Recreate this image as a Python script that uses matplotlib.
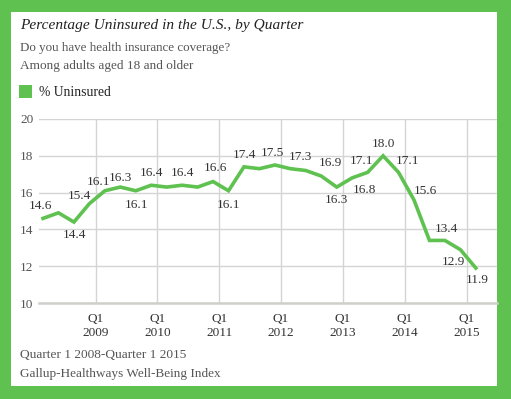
import matplotlib
matplotlib.use("Agg")
import matplotlib.pyplot as plt
from matplotlib.patches import Rectangle

values = [14.6, 14.9, 14.4, 15.4, 16.1, 16.3, 16.1, 16.4, 16.3, 16.4, 16.3, 16.6, 16.1,
          17.4, 17.3, 17.5, 17.3, 17.2, 16.9, 16.3, 16.8, 17.1, 18.0, 17.1, 15.6, 13.4,
          13.4, 12.9, 11.9]
tick_labels = ["Q1\n2009", "Q1\n2010", "Q1\n2011", "Q1\n2012", "Q1\n2013", "Q1\n2014", "Q1\n2015"]
y_ticks = [10, 12, 14, 16, 18, 20]
# which points get a value label, and offset (px) of the label from the point
label_offsets = {0: (-3, 12), 2: (1, -13), 3: (-10, 8), 4: (-6, 9), 5: (0, 9), 6: (1, -14),
                 7: (0, 12), 9: (0, 12), 11: (2, 14), 12: (0, -14), 13: (1, 12), 15: (-2, 12),
                 16: (10, 12), 18: (9, 13), 19: (0, -13), 20: (12, -12), 21: (-6, 11),
                 22: (0, 12), 23: (9, 11), 24: (11, 9), 26: (1, 11), 27: (-7, -12), 28: (1, -12)}

GREEN = "#5EC150"
FONT = "Liberation Serif"
W, H = 511, 399
fig = plt.figure(figsize=(W / 100, H / 100), dpi=100, facecolor=GREEN)
fig.patches.append(Rectangle((11 / W, 1 - 386 / H), (497 - 11) / W, (386 - 12) / H,
                             transform=fig.transFigure, facecolor="white", edgecolor="none", zorder=-10))

ax = fig.add_axes([39 / W, 1 - 303 / H, (497 - 39) / W, (303 - 119) / H])
ax.set_zorder(2)
ax.set_facecolor("none")
x = list(range(len(values)))
ax.plot(x, values, color=GREEN, lw=2.6, solid_joinstyle="miter", zorder=3)
ax.set_xlim(-0.26, 29.37)
ax.set_ylim(10, 20)

tick_pos = [3.4 + 4 * k for k in range(len(tick_labels))]
ax.set_xticks(tick_pos)
ax.set_xticklabels(tick_labels, fontsize=9.5, family=FONT, color="#333333", linespacing=1.3)
ax.set_yticks(y_ticks)
ax.set_yticklabels([str(v) for v in y_ticks], fontsize=9.5, family=FONT, color="#555555")
ax.tick_params(length=0)
ax.tick_params(axis="y", pad=4)
ax.tick_params(axis="x", pad=7)
ax.grid(True, color="#d4d4d4", lw=1)
for s in ["top", "right", "left"]:
    ax.spines[s].set_visible(False)
ax.spines["bottom"].set_color("#cfcfca")
ax.spines["bottom"].set_linewidth(1.8)

for i, (dx, dy) in label_offsets.items():
    ax.annotate(f"{values[i]:.1f}", (i, values[i]), xytext=(dx * 0.72, dy * 0.72),
                textcoords="offset points", ha="center", va="center",
                fontsize=9.5, family=FONT, color="#333333", zorder=4)

fig.text(20 / W, 1 - 25 / H, "Percentage Uninsured in the U.S., by Quarter", fontsize=11.1,
         family=FONT, style="italic", color="#222222", va="center")
fig.text(20 / W, 1 - 47.5 / H, "Do you have health insurance coverage?", fontsize=9.4,
         family=FONT, color="#555555", va="center")
fig.text(20 / W, 1 - 66.5 / H, "Among adults aged 18 and older", fontsize=9.5,
         family=FONT, color="#555555", va="center")
fig.patches.append(Rectangle((19 / W, 1 - 98 / H), 13 / W, 13 / H, transform=fig.transFigure,
                             facecolor=GREEN, edgecolor="none", zorder=1))
fig.text(39 / W, 1 - 92 / H, "% Uninsured", fontsize=9.8, family=FONT,
         color="#222222", va="center")
fig.text(20 / W, 1 - 355 / H, "Quarter 1 2008-Quarter 1 2015", fontsize=9.6,
         family=FONT, color="#555555", va="center")
fig.text(20 / W, 1 - 373.5 / H, "Gallup-Healthways Well-Being Index", fontsize=9.5,
         family=FONT, color="#555555", va="center")

fig.savefig("out.png", dpi=100, facecolor=GREEN)
